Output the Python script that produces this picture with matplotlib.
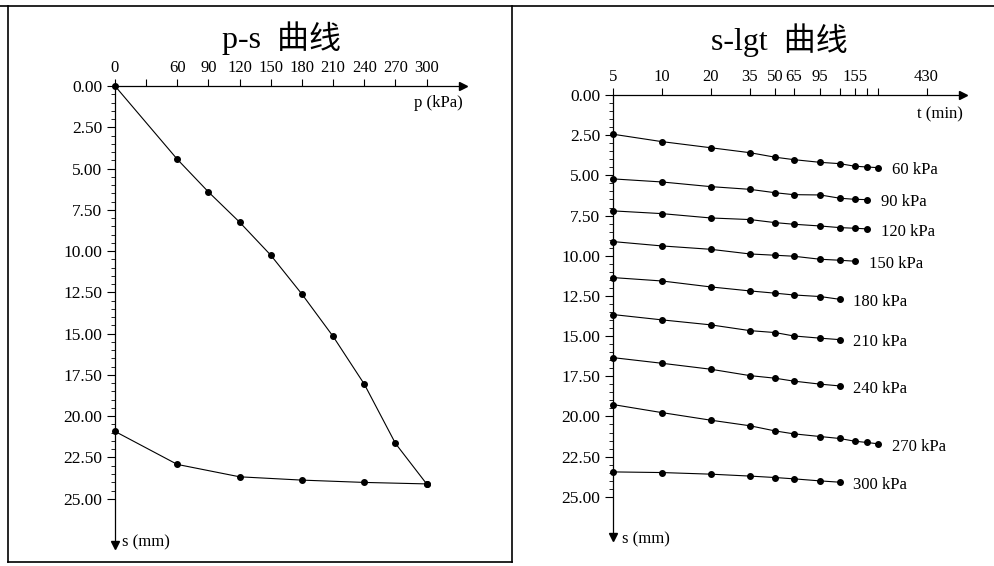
import numpy as np
import matplotlib
matplotlib.use('Agg')
from matplotlib import pyplot as plt
from matplotlib.lines import Line2D
from matplotlib.ticker import FixedLocator, FormatStrFormatter, NullFormatter

plt.rcParams['font.family'] = ['Liberation Serif', 'Noto Sans CJK SC']

# p-s curve (loading and unloading)
load_p = [0, 60, 90, 120, 150, 180, 210, 240, 270, 300]
load_s = [0, 4.44, 6.42, 8.25, 10.25, 12.61, 15.17, 18.06, 21.65, 24.10]
unload_p = [300, 240, 180, 120, 60, 0]
unload_s = [24.10, 24.01, 23.87, 23.67, 22.92, 20.92]
p_ticks = [0, 30, 60, 90, 120, 150, 180, 210, 240, 270, 300]
p_labels = ['0', '', '60', '90', '120', '150', '180', '210', '240', '270', '300']

# s-lgt curves, one per load step
times = [5, 10, 20, 35, 50, 65, 95, 125, 155, 185, 215]
t_ticks = [5, 10, 20, 35, 50, 65, 95, 125, 155, 185, 215, 430]
t_labels = ['5', '10', '20', '35', '50', '65', '95', '', '155', '', '', '430']
loads = ['60 kPa', '90 kPa', '120 kPa', '150 kPa', '180 kPa',
         '210 kPa', '240 kPa', '270 kPa', '300 kPa']
s_60 = [2.44, 2.90, 3.28, 3.59, 3.87, 4.02, 4.19, 4.27, 4.43, 4.48, 4.52]
s_90 = [5.22, 5.41, 5.70, 5.87, 6.08, 6.20, 6.22, 6.42, 6.49, 6.51]
s_120 = [7.21, 7.38, 7.65, 7.75, 7.94, 8.04, 8.15, 8.25, 8.29, 8.33]
s_150 = [9.12, 9.39, 9.60, 9.89, 9.97, 10.03, 10.22, 10.28, 10.34]
s_180 = [11.36, 11.57, 11.94, 12.19, 12.33, 12.44, 12.54, 12.71]
s_210 = [13.66, 13.99, 14.30, 14.66, 14.78, 14.99, 15.13, 15.22]
s_240 = [16.34, 16.69, 17.06, 17.46, 17.62, 17.80, 17.99, 18.10]
s_270 = [19.26, 19.76, 20.23, 20.58, 20.90, 21.08, 21.25, 21.37, 21.54, 21.62, 21.70]
s_300 = [23.45, 23.49, 23.59, 23.71, 23.80, 23.88, 24.01, 24.09]
series = [s_60, s_90, s_120, s_150, s_180, s_210, s_240, s_270, s_300]

s_major = np.arange(0, 25.01, 2.5)
s_minor = np.arange(0, 25.01, 0.5)

W, H = 995, 566
fig = plt.figure(figsize=(W / 100, H / 100), dpi=100)


def px_axes(l, t, r, b):
    return fig.add_axes([l / W, 1 - b / H, (r - l) / W, (b - t) / H])


def style(ax):
    for sp in ['right', 'bottom']:
        ax.spines[sp].set_visible(False)
    ax.spines['left'].set_linewidth(0.9)
    ax.spines['top'].set_linewidth(0.9)
    ax.xaxis.tick_top()
    ax.tick_params(axis='x', which='both', direction='out', length=5, pad=2, labelsize=12)
    ax.tick_params(axis='y', which='major', direction='out', length=6, pad=3, labelsize=12.5)
    ax.tick_params(axis='y', which='minor', direction='out', length=3)
    ax.yaxis.set_major_locator(FixedLocator(s_major))
    ax.yaxis.set_minor_locator(FixedLocator(s_minor))
    ax.yaxis.set_major_formatter(FormatStrFormatter('%.2f'))
    ax.plot(1, 1, '>k', ms=6, transform=ax.transAxes, clip_on=False)
    ax.plot(0, 0, 'vk', ms=6, transform=ax.transAxes, clip_on=False)


# left: p-s
ax1 = px_axes(115, 86, 463, 545)
ax1.plot(load_p, load_s, '-o', color='k', lw=0.8, ms=4, clip_on=False)
ax1.plot(unload_p, unload_s, '-o', color='k', lw=0.8, ms=4, clip_on=False)
ax1.set_xlim(0, 335)
ax1.set_ylim(27.8, 0)
style(ax1)
ax1.xaxis.set_major_locator(FixedLocator(p_ticks))
ax1.set_xticklabels(p_labels)
ax1.text(1, 1 - 17 / 459, 'p (kPa)', transform=ax1.transAxes, ha='right', va='center', fontsize=12)
ax1.text(0.02, 0.005, 's (mm)', transform=ax1.transAxes, ha='left', va='center', fontsize=12)

# right: s-lgt
ax2 = px_axes(613, 95, 963, 537)
for lab, s in zip(loads, series):
    t = times[:len(s)]
    ax2.plot(t, s, '-o', color='k', lw=0.8, ms=4, clip_on=False)
    ax2.annotate(lab, (t[-1], s[-1]), xytext=(10, -2), textcoords='offset points',
                 ha='left', va='center', fontsize=12)
ax2.set_xscale('log')
ax2.set_xlim(5, 722)
ax2.set_ylim(27.5, 0)
style(ax2)
ax2.xaxis.set_major_locator(FixedLocator(t_ticks))
ax2.xaxis.set_minor_locator(FixedLocator([]))
ax2.set_xticklabels(t_labels)
ax2.xaxis.set_minor_formatter(NullFormatter())
ax2.text(1, 1 - 19 / 442, 't (min)', transform=ax2.transAxes, ha='right', va='center', fontsize=12)
ax2.text(0.025, -0.005, 's (mm)', transform=ax2.transAxes, ha='left', va='center', fontsize=12)

# titles
fig.text(281 / W, 1 - 38 / H, 'p-s  曲线', ha='center', va='center', fontsize=23)
fig.text(779 / W, 1 - 40 / H, 's-lgt  曲线', ha='center', va='center', fontsize=23)

# panel frame lines
for (x0, y0, x1, y1) in [(0, 6, W, 6), (8, 6, 8, 562), (8, 562, 512, 562), (512, 6, 512, 562)]:
    fig.add_artist(Line2D([x0 / W, x1 / W], [1 - y0 / H, 1 - y1 / H], color='k', lw=1.2,
                          transform=fig.transFigure))

fig.savefig('out.png', dpi=100)
